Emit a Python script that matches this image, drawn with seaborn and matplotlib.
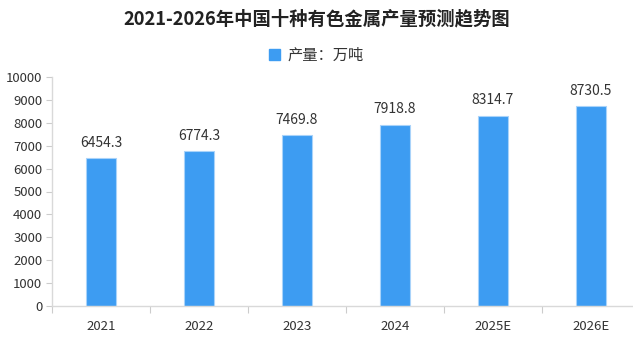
import matplotlib
matplotlib.use("Agg")
import matplotlib.pyplot as plt
import seaborn as sns
import pandas as pd

years = ["2021", "2022", "2023", "2024", "2025E", "2026E"]
output = [6454.3, 6774.3, 7469.8, 7918.8, 8314.7, 8730.5]
yticks = [0, 1000, 2000, 3000, 4000, 5000, 6000, 7000, 8000, 9000, 10000]
title = "2021-2026年中国十种有色金属产量预测趋势图"
series_name = "产量：万吨"

sns.set_theme(style="white")
plt.rcParams['font.family'] = ['Noto Sans CJK SC', 'DejaVu Sans']

df = pd.DataFrame({"year": years, "value": output})

fig = plt.figure(figsize=(6.33, 3.38), dpi=100)
ax = fig.add_axes([52 / 633, 32 / 338, 588 / 633, 229 / 338])

bar_color = "#3d9cf2"
sns.barplot(data=df, x="year", y="value", ax=ax, color=bar_color,
            width=0.30, edgecolor="#a9d3fa", linewidth=0.8, saturation=1)

ax.set_xlim(-0.5, 5.5)
ax.set_ylim(0, 10000)
ax.set_yticks(yticks)
ax.set_yticklabels([str(v) for v in yticks], fontsize=9.5, color="#333333")
ax.set_xlabel("")
ax.set_ylabel("")
ax.tick_params(axis="x", length=0, labelsize=9.5, labelcolor="#333333", pad=10)
ax.tick_params(axis="y", length=4, width=0.8, color="#cccccc", pad=3, left=True)

# minor ticks at category boundaries
ax.set_xticks([i + 0.5 for i in range(-1, len(years))], minor=True)
ax.tick_params(axis="x", which="minor", length=5, width=0.8, color="#cccccc", bottom=True)

for s in ["top", "right"]:
    ax.spines[s].set_visible(False)
for s in ["left", "bottom"]:
    ax.spines[s].set_color("#d9d9d9")
    ax.spines[s].set_linewidth(1.0)

for i, v in enumerate(output):
    ax.annotate(f"{v:.1f}", xy=(i, v), xytext=(0, 6), textcoords="offset points",
                ha="center", va="bottom", fontsize=10, color="#333333")

fig.text(0.5, 1 - 19 / 338, title, ha="center", va="center",
         fontsize=13.2, fontweight="bold", color="#222222")

# legend
from matplotlib.patches import Patch
handle = Patch(facecolor=bar_color, edgecolor=bar_color)
fig.legend([handle], [series_name], loc="center", bbox_to_anchor=(0.5, 1 - 55 / 338),
           frameon=False, fontsize=11, handlelength=0.7, handleheight=0.7,
           handletextpad=0.5, labelcolor="#333333")

fig.savefig("out.png", dpi=100)
